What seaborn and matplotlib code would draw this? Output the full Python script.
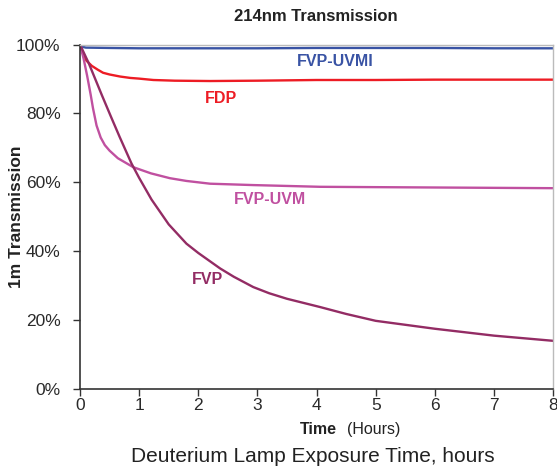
import matplotlib
matplotlib.use("Agg", force=True)
import matplotlib.pyplot as plt
import pandas as pd
import seaborn as sns
from matplotlib.ticker import PercentFormatter

# hand-read values, hours vs % transmission
t_uvmi = [0.0, 0.05, 0.1, 0.5, 1.0, 2.0, 3.0, 4.0, 5.0, 6.0, 7.0, 8.0]
uvmi = [100.0, 99.3, 99.1, 99.0, 98.9, 98.9, 98.9, 99.0, 99.0, 99.0, 98.9, 98.9]

t_fdp = [0.0, 0.05, 0.11, 0.2, 0.3, 0.39, 0.5, 0.68, 0.85, 1.0, 1.24, 1.6, 2.2, 3.0, 4.0, 5.0, 6.0, 7.0, 8.0]
fdp = [100.0, 97.4, 95.3, 93.8, 92.7, 91.8, 91.3, 90.7, 90.3, 90.1, 89.7, 89.5, 89.4, 89.5, 89.7, 89.7, 89.8, 89.8, 89.8]

t_uvm = [0.0, 0.06, 0.12, 0.18, 0.22, 0.28, 0.35, 0.42, 0.5, 0.64, 0.9, 1.2,
         1.52, 1.8, 2.2, 2.93, 4.06, 5.0, 6.0, 7.0, 8.0]
uvm = [100.0, 96.0, 91.0, 85.5, 81.5, 76.5, 73.0, 70.8, 69.2, 67.0, 64.4, 62.6,
       61.2, 60.4, 59.6, 59.2, 58.7, 58.6, 58.5, 58.4, 58.3]

t_fvp = [0.0, 0.15, 0.37, 0.53, 0.67, 0.87, 1.0, 1.21, 1.5, 1.8, 2.0, 2.37, 2.6,
         2.93, 3.2, 3.5, 4.06, 4.5, 5.0, 6.0, 7.0, 8.0]
fvp = [100.0, 94.5, 85.3, 78.8, 73.2, 65.5, 61.3, 55.0, 47.8, 42.2, 39.5, 35.0, 32.6,
       29.6, 27.8, 26.2, 23.8, 21.8, 19.8, 17.5, 15.5, 14.0]

series = {"FVP-UVMI": (t_uvmi, uvmi), "FDP": (t_fdp, fdp), "FVP-UVM": (t_uvm, uvm), "FVP": (t_fvp, fvp)}
colors = {"FVP-UVMI": "#3953a4", "FDP": "#ed1c24", "FVP-UVM": "#c050a0", "FVP": "#932c64"}
label_pos = {"FVP-UVMI": (4.32, 95.2), "FDP": (2.39, 84.2), "FVP-UVM": (3.21, 54.9), "FVP": (2.16, 31.8)}

rows = []
for name, (ts, vals) in series.items():
    for t, v in zip(ts, vals):
        rows.append({"sample": name, "hours": t, "trans": v})
df = pd.DataFrame(rows)

sns.set_style("white")
plt.rcParams["font.family"] = ["Liberation Sans", "DejaVu Sans"]

fig = plt.figure(figsize=(5.57, 4.71), dpi=100)
ax = fig.add_axes([0.1436, 0.174, 0.993 - 0.1436, 0.9055 - 0.174])

sns.lineplot(data=df, x="hours", y="trans", hue="sample", palette=colors,
             hue_order=list(series), linewidth=1.7, legend=False, ax=ax, sort=False)

for name, (x, y) in label_pos.items():
    ax.text(x, y, name, color=colors[name], fontsize=11.5, fontweight="bold",
            ha="center", va="center")

ax.set_xlim(0, 8)
ax.set_ylim(0, 100)
ax.set_xticks(range(0, 9))
ax.set_yticks(range(0, 101, 20))
ax.yaxis.set_major_formatter(PercentFormatter(decimals=0))
ax.tick_params(axis="both", direction="out", length=5, width=1, color="#333333",
               labelsize=12.5, labelcolor="#2a2a2a", left=True, bottom=True)
ax.tick_params(axis="y", pad=9)
ax.tick_params(axis="x", pad=1.5)
for side in ["left", "bottom"]:
    ax.spines[side].set_color("#333333")
    ax.spines[side].set_linewidth(1.2)
for side in ["top", "right"]:
    ax.spines[side].set_color("#bbbbbb")
    ax.spines[side].set_linewidth(1.0)
ax.set_xlabel("")
ax.set_ylabel("1m Transmission", fontsize=12.5, fontweight="bold", color="#222222")
ax.yaxis.set_label_coords(-0.118, 0.5)

fig.text(0.567, 0.964, "214nm Transmission", ha="center", va="center",
         fontsize=12, fontweight="bold", color="#222222")
fig.text(0.605, 0.089, "Time", ha="right", va="center", fontsize=11.5,
         fontweight="bold", color="#222222")
fig.text(0.623, 0.089, "(Hours)", ha="left", va="center", fontsize=11.5, color="#222222")
fig.text(0.562, 0.030, "Deuterium Lamp Exposure Time, hours", ha="center", va="center",
         fontsize=15, color="#222222")

fig.savefig("out.png", dpi=100)
